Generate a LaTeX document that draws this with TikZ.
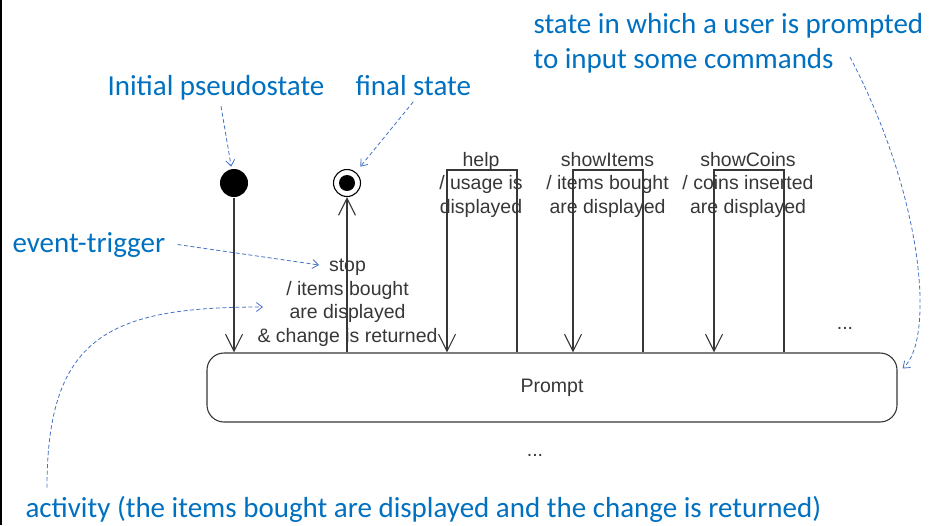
\documentclass[tikz,border=0pt]{standalone}
\usepackage{fontspec}
\setmainfont{Liberation Sans}
\newfontfamily\notefont{Carlito}
\usetikzlibrary{arrows.meta,positioning}
\definecolor{noteblue}{RGB}{0,112,192}
\definecolor{notedash}{RGB}{68,114,196}
\definecolor{umlgray}{RGB}{55,55,55}

\begin{document}
\begin{tikzpicture}[
    x=1pt, y=-1pt,
    line width=1.1pt,
    draw=umlgray,
    st/.style={
        draw,
        rounded corners=17pt,
        minimum width=690pt,
        minimum height=69pt,
        text=umlgray,
        font=\fontsize{19.5}{24}\selectfont,
    },
    ini/.style={circle, fill=black, minimum size=28pt, inner sep=0pt},
    fin/.style={circle, draw=black, minimum size=27pt, inner sep=0pt},
    tr/.style={draw=umlgray, -{Straight Barb[length=17pt,width=17pt]}},
    lb/.style={
        align=center,
        inner sep=0pt,
        anchor=base,
        text=umlgray,
        font=\fontsize{19.5}{23.5}\selectfont,
    },
    nt/.style={
        text=noteblue,
        inner sep=0pt,
        anchor=base west,
        align=left,
        font=\notefont\fontsize{29}{35}\selectfont,
    },
    na/.style={
        draw=notedash,
        line width=0.8pt,
        dash pattern=on 4pt off 2.5pt,
        -{Straight Barb[length=6pt,width=9pt]},
    },
]
    \useasboundingbox (0,0) rectangle (931,525);
    \draw[black, line width=1.5pt] (0.75,0) -- (0.75,525);

    % ~~~ states ~~~~~~~~~~~~
    \node[st] (prompt) at (552,387.5) {Prompt};
    \node[ini] (init) at (234,183) {};
    \node[fin] (final) at (347,183) {};
    \fill[black] (final) circle[radius=8pt];

    % ~~~ transitions ~~~~~~~~~~~~
    \draw[tr] (init) -- (init |- prompt.north);
    \draw[tr] (final |- prompt.north) -- (final);
    \foreach \cx in {482,608,749} {
        \draw[tr] (\cx+35,0 |- prompt.north) -- (\cx+35,170)
            -- (\cx-35,170) -- (\cx-35,0 |- prompt.north);
    }

    % (base = last line)
    \node[lb] (lhelp)  at (481,213)   {help\\/ usage is\\displayed};
    \node[lb] (litems) at (607.5,213) {showItems\\/ items bought\\are displayed};
    \node[lb] (lcoins) at (748,213)   {showCoins\\/ coins inserted\\are displayed};
    \node[lb] (lstop)  at (347.5,342) {stop\\/ items bought\\are displayed\\\& change is returned};
    \node[lb] (more)   at (845,329)   {...};
    \node[lb] (below)  at (535,456)   {...};

    % ~~~ notes ~~~~~~~~~~~~
    \node[nt] (ninit)  at (107,95)  {Initial pseudostate};
    \node[nt] (nfinal) at (355,95)  {final state};
    \node[nt] (nstate) at (533,68)  {state in which a user is prompted\\to input some commands};
    \node[nt] (ntrig)  at (12,252)  {event-trigger};
    \node[nt] (nact)   at (25,517)  {activity (the items bought are displayed and the change is returned)};

    \coordinate (trig)   at (319,265);
    \coordinate (act)    at (263,307);
    \coordinate (stnote) at (850,57);

    \draw[na, shorten >=2pt] ([shift={(5,6)}]ninit.south) -- (init);
    \draw[na, shorten >=7pt] ([yshift=-6pt]nfinal.south) -- (final);
    \draw[na] ([xshift=12pt]ntrig.east) -- (trig);
    \draw[na] ([shift={(22,-35)}]nact.south west) .. controls +(0,-152) and +(-153,0) .. (act);
    \draw[na] (stnote) .. controls +(75,143) and +(32,-28) .. ([shift={(5,-19)}]prompt.east);
\end{tikzpicture}
\end{document}
